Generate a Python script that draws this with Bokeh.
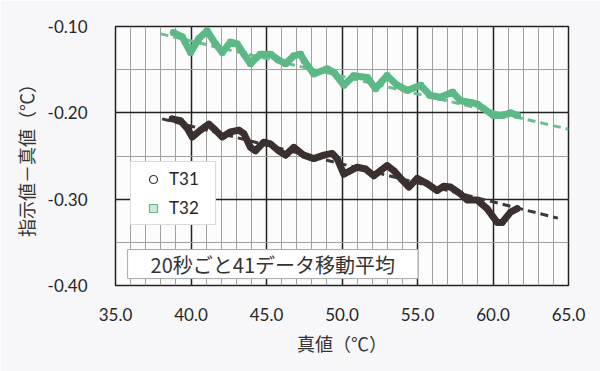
from bokeh.plotting import figure
from bokeh.models import (ColumnDataSource, SingleIntervalTicker, PrintfTickFormatter,
                          Legend, LegendItem, Label, Range1d)
from bokeh.embed import file_html
from bokeh.resources import INLINE

# ---- data ----
t32_x = [38.84, 39.42, 39.97, 40.52, 41.07, 41.62, 42.07, 42.62, 43.06, 43.50, 43.94,
         44.60, 45.26, 45.81, 46.26, 46.81, 47.25, 47.47, 48.13, 49.02, 49.46, 50.12,
         50.78, 51.67, 52.22, 52.99, 53.66, 54.32, 55.20, 55.86, 56.52, 57.32, 57.85,
         58.51, 58.97, 59.37, 60.03, 60.63, 61.16, 61.62]
t32_y = [-0.107, -0.112, -0.130, -0.114, -0.105, -0.120, -0.130, -0.118, -0.120, -0.132, -0.143,
         -0.132, -0.132, -0.139, -0.143, -0.134, -0.132, -0.139, -0.155, -0.149, -0.153, -0.168,
         -0.157, -0.159, -0.172, -0.157, -0.168, -0.174, -0.168, -0.180, -0.182, -0.176, -0.186,
         -0.188, -0.190, -0.195, -0.203, -0.203, -0.200, -0.203]

t31_x = [38.75, 39.30, 39.75, 40.08, 40.63, 41.18, 41.62, 42.07, 42.62, 43.17, 43.50,
         43.94, 44.27, 44.82, 45.26, 45.81, 46.26, 46.81, 47.47, 48.13, 48.80, 49.35,
         49.68, 50.12, 51.01, 51.56, 52.11, 52.99, 53.43, 53.99, 54.43, 54.98, 55.64,
         56.30, 56.74, 57.19, 57.85, 58.29, 58.95, 59.61, 60.28, 60.61, 61.16, 61.60]
t31_y = [-0.207, -0.209, -0.218, -0.228, -0.220, -0.213, -0.220, -0.228, -0.222, -0.220, -0.224,
         -0.240, -0.244, -0.234, -0.236, -0.244, -0.249, -0.240, -0.249, -0.253, -0.249, -0.247,
         -0.253, -0.271, -0.263, -0.265, -0.273, -0.261, -0.267, -0.278, -0.286, -0.276, -0.282,
         -0.290, -0.285, -0.286, -0.294, -0.301, -0.301, -0.311, -0.327, -0.327, -0.315, -0.311]

trend32_x = [37.98, 65.0]
trend32_y = [-0.1085, -0.219]
trend31_x = [38.09, 64.3]
trend31_y = [-0.207, -0.322]

series_labels = ["T31", "T32"]
x_title = "真値（℃）"
y_title = "指示値－真値（℃）"
note_text = "20秒ごと41データ移動平均"

DARK = "#3a302f"
GREEN = "#5cb885"
GREEN_DASH = "#6cbf95"
BG = "#f7f7f9"
TICK_FONT = "Lato"
CJK = "Noto Sans CJK JP"

p = figure(width=600, height=371, output_backend="svg", toolbar_location=None,
           x_range=Range1d(35, 65), y_range=Range1d(-0.40, -0.10),
           min_border_left=115, min_border_right=32, min_border_top=26, min_border_bottom=86)

p.background_fill_color = "#fcfcfd"
p.border_fill_color = BG
p.outline_line_color = "#222222"
p.outline_line_width = 1.5

p.xaxis.ticker = SingleIntervalTicker(interval=5, num_minor_ticks=5)
p.yaxis.ticker = SingleIntervalTicker(interval=0.1, num_minor_ticks=2)
p.xgrid.ticker = p.xaxis.ticker
p.ygrid.ticker = p.yaxis.ticker
p.xaxis.formatter = PrintfTickFormatter(format="%.1f")
p.yaxis.formatter = PrintfTickFormatter(format="%.2f")

for g in (p.xgrid, p.ygrid):
    g.grid_line_color = "#222222"
    g.grid_line_width = 1.5
    g.grid_line_alpha = 1.0
    g.minor_grid_line_color = "#a0a0a0"
    g.minor_grid_line_width = 1

for ax in (p.xaxis, p.yaxis):
    ax.axis_line_color = None
    ax.major_tick_line_color = None
    ax.minor_tick_line_color = None
    ax.major_label_text_font = TICK_FONT
    ax.major_label_text_font_size = "17px"
    ax.major_label_text_color = "#262626"
    ax.axis_label_text_font = CJK
    ax.axis_label_text_font_size = "18px"
    ax.axis_label_text_font_style = "normal"
    ax.axis_label_text_color = "#333333"

p.xaxis.major_label_standoff = 16
p.yaxis.major_label_standoff = 22
p.xaxis.axis_label = x_title
p.yaxis.axis_label = y_title
p.xaxis.axis_label_standoff = 6
p.yaxis.axis_label_standoff = 6

# trend lines
p.line(trend32_x, trend32_y, line_color=GREEN_DASH, line_width=3, line_dash="8 5")
p.line(trend31_x, trend31_y, line_color="#3a3a3a", line_width=3, line_dash="8 5")

# data: markers underneath, thick band of the moving average on top
src32 = ColumnDataSource(dict(x=t32_x, y=t32_y))
src31 = ColumnDataSource(dict(x=t31_x, y=t31_y))
m32 = p.scatter("x", "y", source=src32, marker="square", size=5,
                line_color=GREEN, fill_color="#cfe9d9", line_width=1.2)
m31 = p.scatter("x", "y", source=src31, marker="circle", size=5,
                line_color=DARK, fill_color="#ffffff", line_width=1.2)
p.line("x", "y", source=src32, line_color=GREEN, line_width=7, line_join="round", line_cap="round")
p.line("x", "y", source=src31, line_color=DARK, line_width=7, line_join="round", line_cap="round")

legend = Legend(items=[LegendItem(label=series_labels[0], renderers=[m31]),
                       LegendItem(label=series_labels[1], renderers=[m32])],
                location=(15, 60), orientation="vertical")
legend.label_text_font = TICK_FONT
legend.label_text_font_size = "17px"
legend.label_text_color = "#262626"
legend.glyph_width = 32
legend.glyph_height = 20
legend.label_standoff = 0
legend.label_height = 20
legend.label_width = 40
legend.padding = 6
legend.spacing = 8
legend.margin = 0
legend.border_line_color = "#b8b8b8"
legend.border_line_width = 1
legend.background_fill_color = "#ffffff"
legend.background_fill_alpha = 1.0
p.add_layout(legend)

note = Label(x=35.8, y=-0.392, text=note_text, text_font=CJK, text_font_size="20px",
             text_color="#333333", text_align="left", text_baseline="bottom",
             background_fill_color="#ffffff", background_fill_alpha=1.0,
             border_line_color="#a8a8a8", border_line_width=1, padding=(23, 0))
p.add_layout(note)

html = file_html(p, INLINE)
html = html.replace("<body>", '<body style="background:%s">' % BG, 1)
open("out.html", "w").write(html)
